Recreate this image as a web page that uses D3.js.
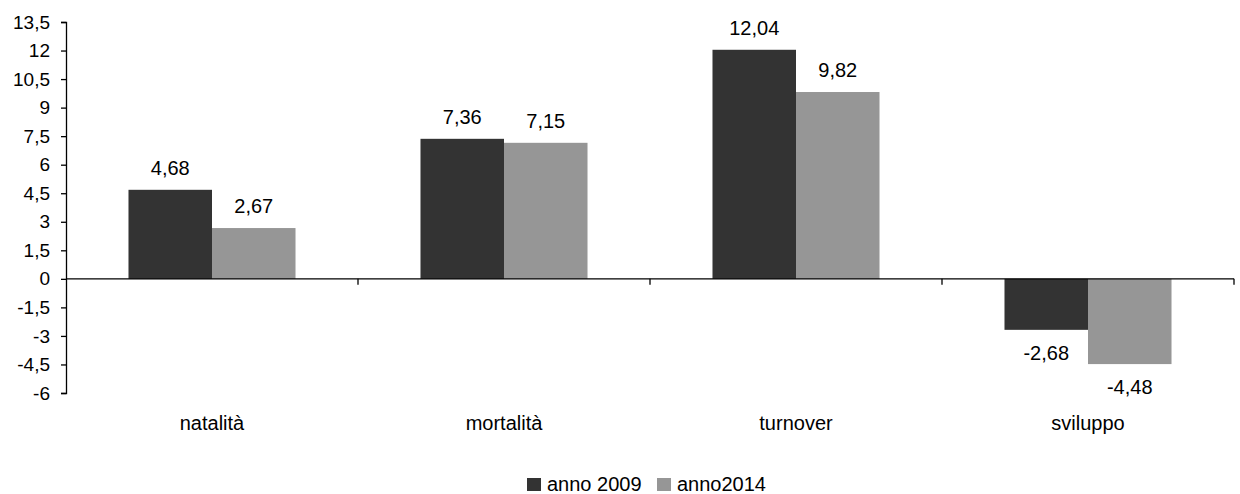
<!DOCTYPE html>
<html>
<head>
<meta charset="utf-8">
<script src="https://cdn.jsdelivr.net/npm/d3@7"></script>
<style>
  html, body { margin: 0; padding: 0; background: #fff; }
  text { font-family: "Liberation Sans", Arial, sans-serif; fill: #000; }
</style>
</head>
<body>
<svg id="chart" width="1240" height="494"></svg>
<script>
// Tassi per categoria, confronto 2009 / 2014
const categories = ["natalità", "mortalità", "turnover", "sviluppo"];
const seriesNames = ["anno 2009", "anno2014"];
const values2009 = [4.68, 7.36, 12.04, -2.68];
const values2014 = [2.67, 7.15, 9.82, -4.48];
const yTicks = [-6, -4.5, -3, -1.5, 0, 1.5, 3, 4.5, 6, 7.5, 9, 10.5, 12, 13.5];
const colors = ["#333333", "#969696"];

const series = [values2009, values2014];
const svg = d3.select("#chart");

const plot = { left: 66, right: 1234, top: 22, bottom: 393 };

const y = d3.scaleLinear().domain([-6, 13.5]).range([plot.bottom, plot.top]);
const x0 = d3.scaleBand().domain(categories).range([plot.left, plot.right]).padding(0);
const groupWidth = x0.bandwidth() * 0.572;
const x1 = d3.scaleBand().domain(seriesNames).range([0, groupWidth]).padding(0);

const fmt = v => String(v).replace(".", ",");
const barX = (c, name) => x0(c) + (x0.bandwidth() - groupWidth) / 2 + x1(name);

// bars and value labels
seriesNames.forEach((name, si) => {
  svg.append("g").selectAll("rect")
    .data(categories)
    .join("rect")
    .attr("x", c => barX(c, name))
    .attr("width", x1.bandwidth())
    .attr("y", (c, i) => y(Math.max(0, series[si][i])))
    .attr("height", (c, i) => Math.abs(y(series[si][i]) - y(0)))
    .attr("fill", colors[si]);

  svg.append("g").selectAll("text")
    .data(categories)
    .join("text")
    .attr("x", c => barX(c, name) + x1.bandwidth() / 2)
    .attr("y", (c, i) => series[si][i] >= 0 ? y(series[si][i]) - 15 : y(series[si][i]) + 30)
    .attr("text-anchor", "middle")
    .attr("font-size", 20)
    .text((c, i) => fmt(series[si][i]));
});

// y axis
const yAxis = d3.axisLeft(y).tickValues(yTicks).tickSize(5).tickPadding(11)
  .tickFormat(d => fmt(d));
const gy = svg.append("g").attr("transform", `translate(${plot.left},0)`).call(yAxis);
gy.select(".domain").attr("stroke", "#000").attr("stroke-width", 1.3);
gy.selectAll(".tick line").attr("stroke", "#000").attr("stroke-width", 1.3);
gy.selectAll(".tick text").attr("font-size", 19).attr("font-family", "Liberation Sans, Arial, sans-serif").attr("fill", "#000");

// x axis at zero with category boundary ticks
const gx = svg.append("g").attr("transform", `translate(0,${y(0)})`);
gx.append("line").attr("x1", plot.left).attr("x2", plot.right).attr("stroke", "#000").attr("stroke-width", 1.3);
const boundaries = categories.map(c => x0(c) + x0.bandwidth());
gx.selectAll("line.tk").data(boundaries).join("line").attr("class", "tk")
  .attr("x1", d => d).attr("x2", d => d).attr("y1", 0).attr("y2", 6)
  .attr("stroke", "#000").attr("stroke-width", 1.3);

// category labels
svg.append("g").selectAll("text")
  .data(categories)
  .join("text")
  .attr("x", c => x0(c) + x0.bandwidth() / 2)
  .attr("y", 430)
  .attr("text-anchor", "middle")
  .attr("font-size", 20)
  .text(c => c);

// legend
const legendX = [527, 657];
const lg = svg.append("g");
seriesNames.forEach((name, i) => {
  lg.append("rect").attr("x", legendX[i]).attr("y", 478).attr("width", 14).attr("height", 13).attr("fill", colors[i]);
  lg.append("text").attr("x", legendX[i] + 20).attr("y", 491).attr("font-size", 20).text(name);
});
</script>
</body>
</html>
